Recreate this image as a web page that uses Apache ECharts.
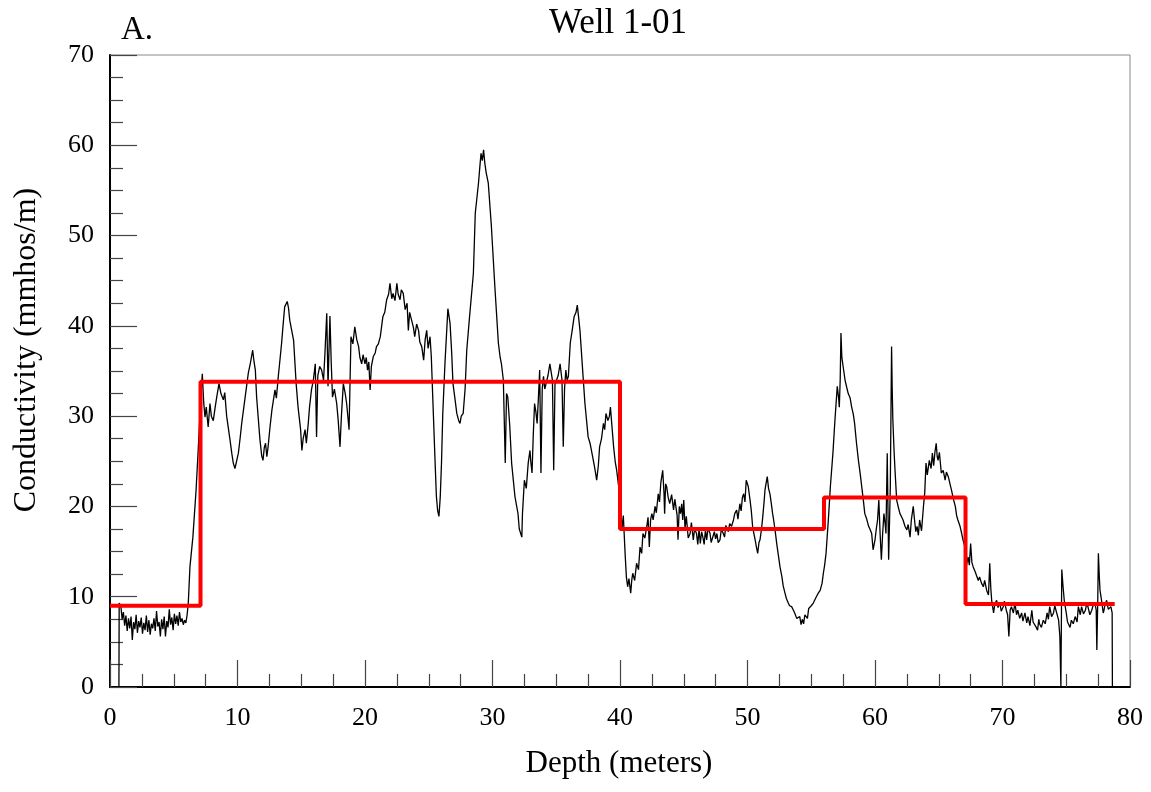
<!DOCTYPE html>
<html>
<head>
<meta charset="utf-8">
<script src="https://cdn.jsdelivr.net/npm/echarts@6/dist/echarts.min.js"></script>
<style>html,body{margin:0;padding:0;background:#fff}#c{width:1151px;height:792px}</style>
</head>
<body>
<div id="c"></div>
<script>
// Conductivity log trace, [depth (m), conductivity (mmhos/m)]
const trace0to14 = [
[0.70,0],[0.72,9.3],[0.85,9.0],[0.95,7.5],[1.05,8.3],[1.15,6.8],[1.25,7.9],[1.35,6.2],[1.45,7.6],[1.55,6.5],
[1.65,7.8],[1.75,5.2],[1.85,7.2],[1.95,6.4],[2.05,8.0],[2.15,6.0],[2.25,7.3],[2.35,6.6],[2.45,7.7],[2.55,5.9],
[2.65,7.1],[2.75,6.3],[2.85,7.9],[2.95,6.1],[3.05,7.4],[3.15,5.8],[3.25,7.0],[3.35,6.5],[3.45,7.6],[3.55,6.2],
[3.65,8.4],[3.75,6.7],[3.85,7.2],[3.95,5.6],[4.05,7.5],[4.15,6.4],[4.25,7.8],[4.35,5.6],[4.45,7.3],[4.55,6.6],
[4.65,8.6],[4.75,6.9],[4.85,7.7],[4.95,6.3],[5.05,8.1],[5.15,7.0],[5.25,7.9],[5.35,6.8],[5.45,8.3],[5.55,7.2],
[5.65,7.6],[5.75,6.9],[5.85,7.4],[5.95,7.1],[6.05,8.0],[6.14,9.3],[6.27,13.3],[6.5,16.6],[6.75,21.8],[6.93,26.6],
[7.11,31.8],[7.24,34.7],[7.35,31.5],[7.45,29.9],[7.55,31.0],[7.7,28.8],[7.84,31.4],[7.95,30.0],[8.1,29.5],[8.25,31.0],
[8.37,32.1],[8.55,33.6],[8.7,32.5],[8.89,31.8],[9.0,32.6],[9.15,30.0],[9.41,27.4],[9.55,25.9],[9.67,24.8],[9.8,24.2],
[9.9,24.4],[10.07,25.9],[10.2,27.5],[10.33,29.2],[10.6,32.1],[10.85,34.8],[11.0,35.8],[11.19,37.3],[11.3,36.0],[11.4,35.1],
[11.5,32.1],[11.76,27.4],[11.9,25.6],[12.0,25.1],[12.1,26.5],[12.2,27.0],[12.3,25.5],[12.4,26.6],[12.55,28.8],[12.7,30.7],
[12.94,32.9],[13.05,32.0],[13.2,34.4],[13.3,35.8],[13.46,38.1],[13.6,40.5],[13.7,42.1],[13.9,42.7]
];
const trace14to27 = [
[14.0,42.0],[14.1,40.6],[14.25,39.5],[14.4,38.4],[14.6,33.6],[14.75,31.0],[14.95,28.5],[15.05,26.2],[15.15,27.5],[15.3,28.5],
[15.4,27.0],[15.55,29.2],[15.65,31.0],[15.8,32.9],[15.95,34.0],[16.1,35.8],[16.2,27.7],[16.3,34.5],[16.45,35.5],[16.6,35.1],
[16.75,34.0],[16.86,37.0],[17.0,41.4],[17.1,33.3],[17.25,41.1],[17.35,36.0],[17.45,32.1],[17.6,33.0],[17.78,31.4],[17.9,29.5],
[18.04,26.6],[18.15,30.0],[18.3,33.6],[18.45,32.5],[18.56,31.4],[18.75,28.5],[18.9,38.8],[19.05,38.0],[19.2,39.9],[19.35,38.5],
[19.5,37.7],[19.6,36.5],[19.74,35.8],[19.85,36.8],[20.0,35.8],[20.1,36.5],[20.2,35.1],[20.3,36.0],[20.4,32.9],[20.5,35.5],
[20.65,36.6],[20.8,37.0],[20.9,37.7],[21.05,38.0],[21.2,38.8],[21.4,41.0],[21.55,41.5],[21.7,42.9],[21.85,43.5],[21.96,44.7],
[22.1,43.0],[22.2,43.6],[22.35,42.8],[22.5,44.7],[22.6,43.5],[22.75,42.9],[22.85,44.0],[23.0,43.6],[23.15,41.8],[23.3,42.5],
[23.4,39.5],[23.5,41.5],[23.66,40.6],[23.8,39.8],[23.9,38.8],[24.05,40.2],[24.2,39.5],[24.3,38.2],[24.45,37.7],[24.6,36.2],
[24.72,38.5],[24.84,39.5],[24.95,37.5],[25.1,38.8],[25.2,36.6],[25.36,30.3],[25.5,24.8],[25.6,21.1],[25.7,19.5],[25.8,18.9],
[25.9,21.0],[26.0,24.8],[26.1,30.3],[26.27,35.8],[26.5,41.9],[26.67,40.3],[26.8,37.0],[26.9,33.6]
];
const trace27to40 = [
[27.05,32.0],[27.2,30.3],[27.35,29.5],[27.45,29.2],[27.55,30.0],[27.7,30.3],[27.85,33.0],[27.98,37.3],[28.2,41.0],[28.5,45.8],
[28.65,52.5],[28.9,55.8],[29.0,57.5],[29.1,59.1],[29.2,58.3],[29.3,59.5],[29.4,58.0],[29.5,57.0],[29.67,55.8],[29.9,51.3],
[30.2,44.0],[30.46,38.1],[30.6,36.5],[30.7,35.8],[30.85,34.0],[31.0,24.8],[31.1,32.5],[31.2,32.1],[31.35,29.0],[31.5,24.8],
[31.76,21.1],[32.0,19.2],[32.1,17.5],[32.2,17.4],[32.3,16.6],[32.35,19.2],[32.5,22.9],[32.65,22.0],[32.8,24.8],[32.94,26.2],
[33.0,25.0],[33.1,23.7],[33.2,28.0],[33.3,31.4],[33.4,30.5],[33.5,29.2],[33.6,32.0],[33.7,35.1],[33.8,23.7],[33.9,33.0],
[34.0,34.4],[34.1,33.0],[34.25,32.9],[34.35,34.5],[34.5,35.8],[34.6,36.0],[34.7,34.0],[34.8,24.0],[34.9,33.5],[35.0,33.6],
[35.15,34.5],[35.3,35.8],[35.45,34.0],[35.55,26.6],[35.65,33.0],[35.75,35.1],[35.85,34.0],[35.95,34.4],[36.1,38.1],[36.25,39.5],
[36.4,41.0],[36.55,41.5],[36.65,42.3],[36.75,41.0],[36.86,39.5],[37.07,35.1],[37.25,31.4],[37.5,27.7],[37.65,27.0],[37.8,25.9],
[37.95,24.8],[38.05,24.0],[38.17,22.9],[38.3,24.5],[38.4,26.6],[38.55,27.5],[38.7,29.2],[38.8,28.5],[38.9,30.3],[39.05,29.5],
[39.17,30.0],[39.25,31.0],[39.35,29.2],[39.5,26.6],[39.62,25.0],[39.74,24.0],[39.87,22.5],[40.0,21.1]
];
const trace40to54 = [
[40.15,17.5],[40.26,19.0],[40.4,14.8],[40.5,12.2],[40.6,11.1],[40.7,12.0],[40.84,10.4],[40.92,11.8],[41.0,12.6],[41.15,11.8],
[41.3,13.7],[41.45,13.0],[41.57,15.5],[41.7,14.8],[41.8,17.0],[41.95,16.5],[42.1,17.8],[42.2,18.8],[42.3,15.5],[42.4,18.5],
[42.5,19.2],[42.6,18.5],[42.75,20.0],[42.85,19.3],[43.0,21.4],[43.1,20.5],[43.2,22.6],[43.35,24.0],[43.45,21.5],[43.5,19.2],
[43.58,22.5],[43.66,22.2],[43.78,21.0],[43.9,20.3],[44.05,21.3],[44.2,19.6],[44.3,20.8],[44.4,20.7],[44.48,19.0],[44.55,16.3],
[44.65,20.0],[44.75,19.2],[44.84,20.3],[44.92,18.5],[45.0,20.7],[45.1,17.6],[45.2,18.9],[45.35,16.5],[45.5,17.0],[45.6,18.2],
[45.75,16.3],[45.85,17.5],[46.0,17.0],[46.1,15.8],[46.2,17.5],[46.3,15.9],[46.4,17.2],[46.5,16.6],[46.6,15.8],[46.7,17.4],
[46.8,16.3],[46.9,17.6],[47.06,17.0],[47.15,16.0],[47.3,15.9],[47.4,17.2],[47.5,16.4],[47.6,17.0],[47.7,16.0],[47.84,16.3],
[47.95,17.5],[48.1,17.0],[48.2,16.6],[48.3,17.9],[48.4,17.8],[48.5,17.2],[48.6,18.1],[48.75,17.8],[48.9,18.5],[49.0,19.2],
[49.15,19.6],[49.25,18.6],[49.4,20.3],[49.5,19.5],[49.6,21.0],[49.7,21.4],[49.8,20.5],[49.9,22.9],[50.06,22.2],[50.2,20.7],
[50.3,19.5],[50.4,17.8],[50.5,17.0],[50.6,16.3],[50.7,15.5],[50.8,14.8],[50.9,16.0],[50.98,16.3],[51.1,17.5],[51.2,18.9],
[51.3,20.5],[51.37,21.8],[51.45,22.5],[51.55,23.3],[51.65,22.0],[51.76,21.4],[51.85,20.5],[51.97,19.2],[52.05,18.5],[52.16,17.4],
[52.3,15.8],[52.4,14.8],[52.55,13.3],[52.7,12.2],[52.8,11.2],[52.94,10.4],[53.05,9.8],[53.2,9.3],[53.3,9.0],[53.46,8.9],
[53.6,8.5],[53.7,8.2],[53.86,7.6],[54.0,7.4]
];
const trace54to67 = [
[54.1,7.8],[54.2,6.9],[54.3,7.5],[54.4,7.0],[54.5,8.0],[54.6,8.2],[54.7,7.6],[54.8,8.7],[54.9,8.5],[55.0,9.0],
[55.16,9.3],[55.3,9.5],[55.4,10.0],[55.55,10.4],[55.7,10.7],[55.85,11.5],[55.95,12.6],[56.05,13.5],[56.16,14.8],[56.34,18.5],
[56.5,22.2],[56.7,25.9],[56.86,29.6],[57.04,33.3],[57.15,32.0],[57.2,31.0],[57.27,34.0],[57.33,39.2],[57.4,36.5],[57.47,35.8],
[57.55,35.0],[57.65,34.0],[57.78,33.2],[57.9,32.5],[58.05,32.0],[58.17,31.0],[58.3,30.2],[58.4,29.2],[58.55,27.0],[58.7,25.1],
[58.85,23.5],[58.96,22.2],[59.1,20.5],[59.2,19.2],[59.35,18.6],[59.5,17.8],[59.6,17.5],[59.74,17.0],[59.85,15.2],[60.0,16.3],
[60.1,17.5],[60.2,18.5],[60.3,20.7],[60.4,17.0],[60.5,14.1],[60.6,17.0],[60.7,19.2],[60.8,18.0],[60.86,17.0],[60.96,25.9],
[61.07,14.1],[61.15,19.0],[61.2,22.2],[61.25,30.0],[61.3,37.7],[61.35,33.0],[61.4,29.6],[61.5,26.0],[61.57,24.0],[61.7,20.7],
[61.85,19.8],[61.96,19.2],[62.1,18.8],[62.2,18.5],[62.35,17.8],[62.5,17.4],[62.6,18.0],[62.75,16.6],[62.85,18.5],[63.0,20.0],
[63.1,18.5],[63.2,17.2],[63.3,17.8],[63.4,16.8],[63.5,18.5],[63.65,17.3],[63.8,20.0],[63.9,21.5],[64.0,24.8],[64.1,23.5],
[64.26,25.1],[64.4,24.2],[64.5,25.9],[64.6,24.5],[64.7,26.0],[64.8,27.0],[64.88,25.5],[64.95,25.1],[65.05,26.0],[65.2,23.7],
[65.35,24.0],[65.5,22.9],[65.6,23.8],[65.75,23.3],[65.88,22.5],[66.0,21.8],[66.15,20.8],[66.3,20.0],[66.4,19.0],[66.5,18.5],
[66.67,17.8],[66.8,17.0],[66.9,16.3],[67.06,15.5]
];
const trace67to79 = [
[67.15,13.3],[67.3,14.4],[67.4,13.5],[67.5,15.9],[67.6,13.8],[67.7,13.3],[67.85,12.8],[68.0,12.6],[68.1,11.8],[68.2,12.2],
[68.35,11.5],[68.5,11.1],[68.6,11.8],[68.76,10.7],[68.9,10.2],[69.0,13.7],[69.08,11.0],[69.15,9.6],[69.3,8.2],[69.4,9.2],
[69.54,9.6],[69.65,8.8],[69.8,9.3],[69.9,8.4],[70.06,8.9],[70.15,9.5],[70.3,8.5],[70.4,8.0],[70.5,5.6],[70.6,8.5],
[70.7,8.9],[70.85,8.2],[70.98,9.3],[71.1,8.0],[71.2,8.5],[71.35,7.6],[71.5,8.2],[71.6,7.3],[71.76,8.2],[71.9,7.1],
[72.0,7.8],[72.15,6.8],[72.3,8.5],[72.4,7.2],[72.55,7.4],[72.65,6.6],[72.75,6.3],[72.85,7.5],[72.9,7.0],[73.05,6.6],
[73.2,7.4],[73.35,7.0],[73.5,8.2],[73.6,7.5],[73.7,8.9],[73.85,7.8],[74.0,8.2],[74.1,9.0],[74.25,8.9],[74.4,7.4],
[74.5,5.6],[74.58,0],[74.65,13.0],[74.75,11.1],[74.85,9.5],[75.0,8.2],[75.1,7.2],[75.16,7.4],[75.3,6.6],[75.4,7.4],
[75.55,7.0],[75.7,7.8],[75.85,7.2],[75.95,8.9],[76.1,8.0],[76.2,8.9],[76.35,8.1],[76.5,8.5],[76.6,9.2],[76.7,8.9],
[76.85,8.0],[77.0,8.5],[77.1,9.0],[77.25,9.3],[77.35,8.5],[77.4,4.1],[77.47,9.5],[77.52,14.8],[77.6,12.0],[77.65,10.7],
[77.8,9.3],[77.9,8.2],[77.96,8.5],[78.05,9.2],[78.17,9.6],[78.3,8.6],[78.4,8.5],[78.5,8.9],[78.6,8.2],[78.62,0]
];

// Layered model (red step line)
const layerTopDepth = [0, 7.1, 40.0, 56.0, 67.1, 78.8];
const layerConductivity = [9.0, 33.8, 17.5, 21.0, 9.2];

const xTicks = [0, 10, 20, 30, 40, 50, 60, 70, 80];
const yTicks = [0, 10, 20, 30, 40, 50, 60, 70];

const titleText = 'Well 1-01';
const panelLabel = 'A.';
const xName = 'Depth (meters)';
const yName = 'Conductivity (mmhos/m)';

const trace = [].concat(trace0to14, trace14to27, trace27to40, trace40to54, trace54to67, trace67to79);
const stepData = layerConductivity.map((v, i) => [layerTopDepth[i], v]);
stepData.push([layerTopDepth[layerTopDepth.length - 1], layerConductivity[layerConductivity.length - 1]]);

const FONT = '"Liberation Serif", "Times New Roman", serif';
const chart = echarts.init(document.getElementById('c'), null, {renderer: 'canvas'});
const axisCommon = {
  axisLine: {show: true, onZero: false, lineStyle: {color: '#000', width: 2}},
  axisTick: {show: true, inside: true, length: 27, lineStyle: {color: '#444', width: 1.2}},
  minorTick: {show: true, splitNumber: 4, length: 13, lineStyle: {color: '#444', width: 1.2}},
  splitLine: {show: false},
  axisLabel: {color: '#000', fontSize: 26, fontFamily: FONT}
};
chart.setOption({
  animation: false,
  backgroundColor: '#fff',
  grid: {left: 110, right: 21, top: 55, bottom: 105, show: true, borderColor: '#888', borderWidth: 1, backgroundColor: 'transparent'},
  xAxis: Object.assign({}, axisCommon, {
    type: 'value', min: xTicks[0], max: xTicks[xTicks.length - 1], interval: 10,
    axisLabel: Object.assign({}, axisCommon.axisLabel, {margin: 18})
  }),
  yAxis: Object.assign({}, axisCommon, {
    type: 'value', min: yTicks[0], max: yTicks[yTicks.length - 1], interval: 10,
    axisLabel: Object.assign({}, axisCommon.axisLabel, {margin: 16})
  }),
  graphic: [
    {type: 'text', x: 618, y: 24, style: {text: titleText, font: '35px ' + FONT, fill: '#000', textAlign: 'center', textVerticalAlign: 'middle'}},
    {type: 'text', x: 121, y: 30, style: {text: panelLabel, font: '33px ' + FONT, fill: '#000', textAlign: 'left', textVerticalAlign: 'middle'}},
    {type: 'text', x: 619, y: 764, style: {text: xName, font: '31px ' + FONT, fill: '#000', textAlign: 'center', textVerticalAlign: 'middle'}},
    {type: 'text', x: 27, y: 350, rotation: Math.PI / 2, style: {text: yName, font: '32px ' + FONT, fill: '#000', textAlign: 'center', textVerticalAlign: 'middle'}}
  ],
  series: [
    {type: 'line', data: trace, showSymbol: false, symbol: 'none', lineStyle: {color: '#000', width: 1.3}, z: 2, clip: true},
    {type: 'line', data: stepData, step: 'end', showSymbol: false, symbol: 'none', lineStyle: {color: '#ff0000', width: 4}, z: 3}
  ]
});
</script>
</body>
</html>
